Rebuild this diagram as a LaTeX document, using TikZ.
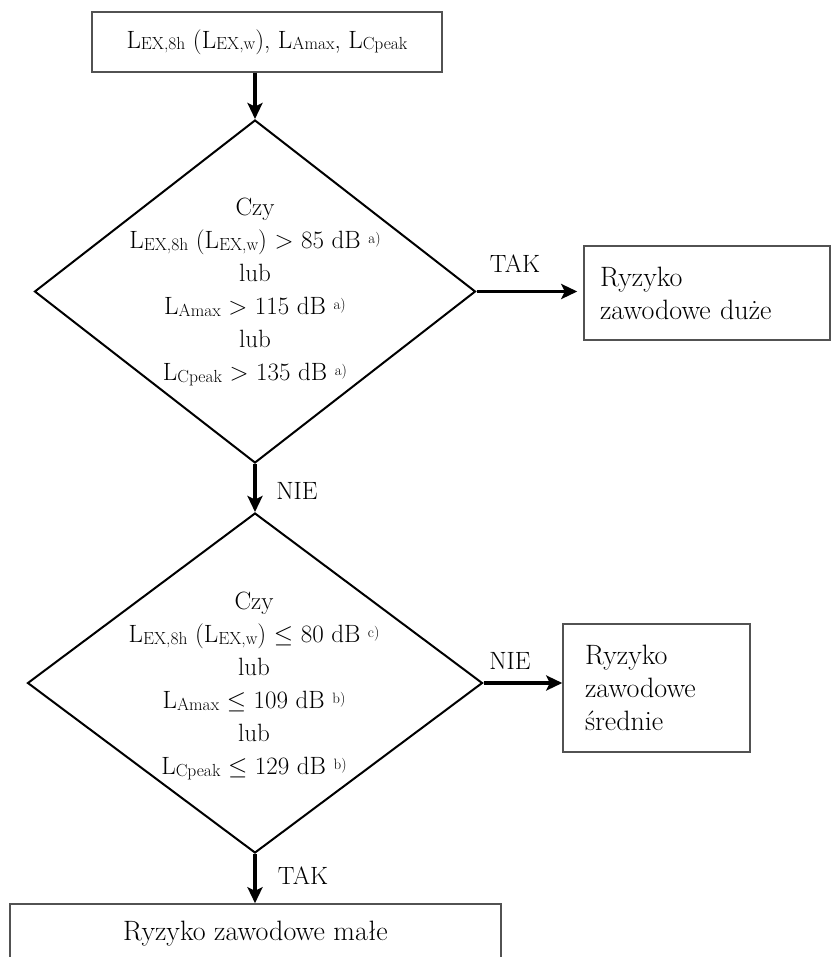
\documentclass[tikz,border=0pt]{standalone}
\usetikzlibrary{arrows.meta,shapes.geometric}
% small subscript and note marks used in the level symbols
\newcommand\lsb[1]{\raisebox{-1.5pt}{\fontsize{17.5}{17.5}\selectfont #1}}
\newcommand\nsp[1]{\raisebox{5pt}{\fontsize{15}{15}\selectfont #1}}
\tikzset{
  boxnode/.style={draw=black!68, line width=1.5pt, inner sep=0pt},
  decision/.style={diamond, draw=black, line width=2pt, inner sep=0pt},
  flowarrow/.style={line width=3.6pt, -{Stealth[length=16pt,width=15pt,inset=3.5pt]}},
  qtext/.style={align=center, font=\fontsize{25}{33}\selectfont, inner sep=0pt},
  boxtext/.style={font=\fontsize{28}{33}\selectfont},
  lbl/.style={font=\fontsize{25}{28}\selectfont, inner sep=0pt},
}
\begin{document}
\begin{tikzpicture}[x=1pt,y=-1pt]
\useasboundingbox (0,0) rectangle (831,957);

% input quantities
\node[boxnode, minimum width=350, minimum height=60, font=\fontsize{25}{28}\selectfont]
  (src) at (267,42) {L\lsb{EX,8h} (L\lsb{EX,w}), L\lsb{Amax}, L\lsb{Cpeak}};

% first decision
\node[decision, minimum width=441, minimum height=343] (q1) at (255,291.5) {};
\node[qtext] (q1t) at (255,292) {Czy\\
  L\lsb{EX,8h} (L\lsb{EX,w}) > 85 dB \nsp{a)}\\
  lub\\
  L\lsb{Amax} > 115 dB \nsp{a)}\\
  lub\\
  L\lsb{Cpeak} > 135 dB \nsp{a)}};

% second decision
\node[decision, minimum width=455, minimum height=340] (q2) at (255,683) {};
\node[qtext] (q2t) at (254,686) {Czy\\
  L\lsb{EX,8h} (L\lsb{EX,w}) $\leq$ 80 dB \nsp{c)}\\
  lub\\
  L\lsb{Amax} $\leq$ 109 dB \nsp{b)}\\
  lub\\
  L\lsb{Cpeak} $\leq$ 129 dB \nsp{b)}};

% outcomes
\node[boxnode, boxtext, minimum width=246, minimum height=94, text width=214,
  inner xsep=16, align=left] (hi) at (707,293) {Ryzyko\\ zawodowe duże};
\node[boxnode, boxtext, minimum width=187, minimum height=128, text width=143,
  inner xsep=22, align=left] (mid) at (656.5,688) {Ryzyko\\ zawodowe\\ średnie};
\node[boxnode, boxtext, minimum width=491, minimum height=58,
  text height=19pt, text depth=5pt] (lo) at (255.5,933) {Ryzyko zawodowe małe};

% connectors
\draw[flowarrow] (q1.north |- src.south) -- (q1.north);
\draw[flowarrow, shorten >=6pt] (q1.east) -- (q1.east -| hi.west);
\draw[flowarrow] (q1.south) -- (q2.north);
\draw[flowarrow] (q2.east) -- (q2.east -| mid.west);
\draw[flowarrow] (q2.south) -- (q2.south |- lo.north);

% branch labels
\node[lbl] (l1) at (515,263.8) {TAK};
\node[lbl] (l2) at (297,490.5) {NIE};
\node[lbl] (l3) at (510,661) {NIE};
\node[lbl] (l4) at (303,876) {TAK};
\end{tikzpicture}
\end{document}
